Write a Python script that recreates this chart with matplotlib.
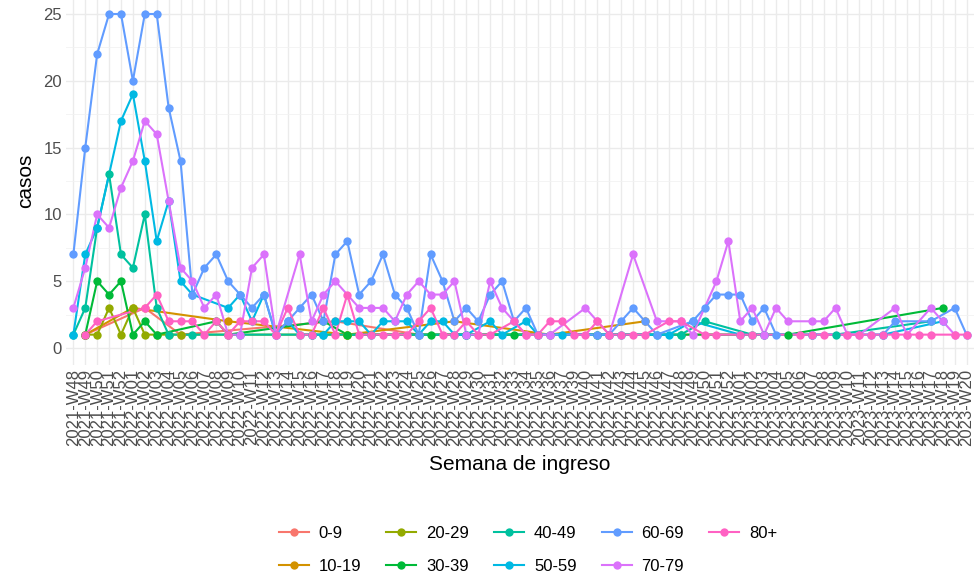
import numpy as np
import matplotlib
matplotlib.use("Agg")
import matplotlib.pyplot as plt
from matplotlib.lines import Line2D

nan = np.nan

weeks = [
    "2021-W48", "2021-W49", "2021-W50", "2021-W51", "2021-W52",
    "2022-W01", "2022-W02", "2022-W03", "2022-W04", "2022-W05", "2022-W06", "2022-W07",
    "2022-W08", "2022-W09", "2022-W10", "2022-W11", "2022-W12", "2022-W13", "2022-W14",
    "2022-W15", "2022-W16", "2022-W17", "2022-W18", "2022-W19", "2022-W20", "2022-W21",
    "2022-W22", "2022-W23", "2022-W24", "2022-W25", "2022-W26", "2022-W27", "2022-W28",
    "2022-W29", "2022-W30", "2022-W31", "2022-W32", "2022-W33", "2022-W34", "2022-W35",
    "2022-W36", "2022-W37", "2022-W39", "2022-W40", "2022-W41", "2022-W42",
    "2022-W43", "2022-W44", "2022-W45", "2022-W46", "2022-W47", "2022-W48", "2022-W49",
    "2022-W50", "2022-W51", "2022-W52",
    "2023-W01", "2023-W02", "2023-W03", "2023-W04", "2023-W05", "2023-W06", "2023-W07",
    "2023-W08", "2023-W09", "2023-W10", "2023-W11", "2023-W12", "2023-W13", "2023-W14",
    "2023-W15", "2023-W16", "2023-W17", "2023-W18", "2023-W19", "2023-W20",
]

groups = ["0-9", "10-19", "20-29", "30-39", "40-49", "50-59", "60-69", "70-79", "80+"]
colors = ["#F8766D", "#D39200", "#93AA00", "#00BA38", "#00C19F",
          "#00B9E3", "#619CFF", "#DB72FB", "#FF61C3"]

def series(pairs):
    out = [nan] * len(weeks)
    for i, v in pairs:
        out[i] = v
    return out

cases_0_9 = series([(1, 1), (6, 3), (9, 1), (22, 2), (29, 1), (45, 1), (58, 1)])
cases_10_19 = series([(1, 1), (5, 3), (13, 2), (23, 1), (32, 2), (40, 1), (48, 2)])
cases_20_29 = series([(1, 1), (2, 1), (3, 3), (4, 1), (5, 3), (6, 1), (7, 1), (8, 1),
                      (9, 1), (23, 1), (33, 1), (44, 1)])
cases_30_39 = series([(1, 1), (2, 5), (3, 4), (4, 5), (5, 1), (6, 2), (7, 1), (12, 2),
                      (13, 1), (21, 2), (23, 1), (30, 1), (37, 1), (51, 1), (60, 1), (73, 3)])
cases_40_49 = series([(0, 1), (1, 3), (2, 9), (3, 13), (4, 7), (5, 6), (6, 10), (7, 3),
                      (8, 1), (10, 1), (14, 1), (20, 1), (21, 1), (33, 1), (45, 1), (51, 1),
                      (53, 2), (57, 1), (64, 1), (72, 2)])
cases_50_59 = series([(0, 1), (1, 7), (2, 9), (4, 17), (5, 19), (6, 14), (7, 8), (8, 11),
                      (9, 5), (10, 4), (13, 3), (14, 4), (15, 2), (16, 4), (17, 1), (18, 2),
                      (19, 1), (20, 1), (21, 1), (22, 2), (23, 2), (24, 2), (25, 1), (26, 2),
                      (27, 2), (28, 2), (29, 1), (30, 2), (31, 2), (32, 1), (33, 1), (35, 2),
                      (36, 1), (38, 2), (39, 1), (41, 1), (44, 1), (46, 1), (49, 1), (50, 1),
                      (52, 2), (56, 1), (58, 1), (62, 1), (68, 1), (73, 2)])
cases_60_69 = [7, 15, 22, 25, 25, 20, 25, 25, 18, 14,
               4, 6, 7, 5, 4, 3, 4, 1, 2, 3,
               4, 2, 7, 8, 4, 5, 7, 4, 3, 1,
               7, 5, 2, 3, 2, 4, 5, 2, 3, 1,
               1, nan, nan, nan, 1, 1, 2, 3, 2, 1,
               nan, nan, 2, 3, 4, 4, 4, 2, 3, 1,
               nan, nan, 1, nan, nan, nan, nan, 1, 1, 2,
               nan, nan, 2, nan, 3, 1]
cases_70_79 = [3, 6, 10, 9, 12, 14, 17, 16, 11, 6,
               5, 3, 4, 1, 1, 6, 7, 1, nan, 7,
               2, 4, 5, nan, 3, 3, 3, 2, 4, 5,
               4, 4, 5, 1, 1, 5, 3, nan, 1, nan,
               1, nan, nan, 3, 2, 1, nan, 7, nan, 2,
               nan, 2, 1, nan, 5, 8, 2, 3, 1, 3,
               2, nan, 2, 2, 3, 1, 1, nan, nan, 3,
               1, nan, 3, 2, 1, nan]
cases_80 = [nan, 1, 2, nan, nan, nan, 3, 4, 2, 2,
            2, 1, 2, 1, 2, 2, 2, 1, 3, 1,
            1, 3, 1, 4, 1, 1, 1, 1, 1, 2,
            3, 1, 1, 2, 1, 1, nan, 2, 1, 1,
            2, 2, 1, 1, 2, 1, 1, 1, 1, nan,
            2, 2, nan, 1, 1, nan, 1, 1, nan, nan,
            nan, 1, 1, 1, nan, 1, 1, 1, 1, 1,
            1, 1, 1, nan, 1, 1]

all_series = [cases_0_9, cases_10_19, cases_20_29, cases_30_39, cases_40_49,
              cases_50_59, cases_60_69, cases_70_79, cases_80]

plt.rcParams["font.family"] = ["Liberation Sans", "DejaVu Sans"]

W, H = 974, 581
fig = plt.figure(figsize=(W / 100, H / 100), dpi=100)
ax = fig.add_axes([66.2 / W, 1 - 364.7 / H, (973.7 - 66.2) / W, (364.7 + 2.7) / H])

x_all = np.arange(len(weeks))
for k, (vals, col) in enumerate(zip(all_series, colors)):
    v = np.array(vals, dtype=float)
    m = ~np.isnan(v)
    ax.plot(x_all[m], v[m], color=col, lw=1.5, zorder=2 + k * 0.01,
            solid_capstyle="butt")
for k, (vals, col) in enumerate(zip(all_series, colors)):
    v = np.array(vals, dtype=float)
    m = ~np.isnan(v)
    ax.plot(x_all[m], v[m], ls="none", marker="o", ms=6, color=col,
            markeredgewidth=0, zorder=3 + k * 0.01)

ax.set_xlim(-0.6, len(weeks) - 1 + 0.6)
ax.set_ylim(-1.25, 26.25)
ax.set_xticks(x_all)
ax.set_xticklabels(weeks, rotation=90, fontsize=12, color="#4D4D4D")
ax.set_yticks([0, 5, 10, 15, 20, 25])
ax.set_yticks([2.5, 7.5, 12.5, 17.5, 22.5], minor=True)
ax.tick_params(axis="y", labelsize=12, labelcolor="#4D4D4D")
ax.tick_params(which="both", length=0, pad=3)
ax.grid(which="major", color="#EBEBEB", lw=1.0)
ax.grid(which="minor", axis="y", color="#F2F2F2", lw=0.6)
ax.set_axisbelow(True)
for s in ax.spines.values():
    s.set_visible(False)

ax.set_ylabel("casos", fontsize=15, labelpad=6)
ax.set_xlabel("Semana de ingreso", fontsize=15, labelpad=6)

handles = [Line2D([0], [0], color=c, lw=1.5, marker="o", ms=6, markeredgewidth=0)
           for c in colors]
fig.legend(handles, groups, loc="center", bbox_to_anchor=(528 / W, 1 - 550 / H),
           ncol=5, frameon=False, fontsize=12, handlelength=1.8, handletextpad=0.6,
           columnspacing=1.5, labelspacing=1.1)

fig.savefig("out.png", dpi=100)
